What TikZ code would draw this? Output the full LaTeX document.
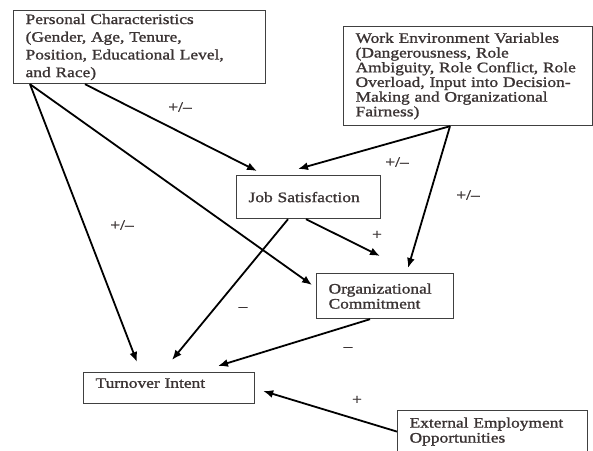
\documentclass[tikz,border=0pt]{standalone}
\usepackage{fontspec}
\setmainfont[FakeStretch=1.2,FakeBold=1.2]{Liberation Serif}
\usetikzlibrary{arrows.meta}
\definecolor{txt}{HTML}{3A3333}

\begin{document}
\begin{tikzpicture}[x=1pt, y=-1pt,
    box/.style={draw=black!75, line width=1.2pt, anchor=north west, align=left,
      inner xsep=12pt, inner ysep=0pt, text=txt, font=\fontsize{14.5}{15}\selectfont},
    lnk/.style={-{Latex[length=10pt,width=8pt]}, line width=1.8pt},
    sgn/.style={text=txt, font=\fontsize{14.5}{15}\selectfont}]
    \useasboundingbox (0,0) rectangle (593,450);

    \node[box, text width=228pt, minimum height=73pt, font=\fontsize{14.5}{17.7}\selectfont] (pc) at (13,10)
        {Personal Characteristics\\(Gender, Age, Tenure,\\Position, Educational Level,\\and Race)};
    \node[box, text width=225pt, minimum height=99pt, font=\fontsize{14.5}{14.7}\selectfont] (wev) at (343,26)
        {Work Environment Variables\\(Dangerousness, Role\\Ambiguity, Role Conflict, Role\\Overload, Input into Decision-\\Making and Organizational\\Fairness)};
    \node[box, text width=120pt, minimum height=43pt] (js) at (236,175) {Job Satisfaction};
    \node[box, text width=113pt, minimum height=45pt] (oc) at (316,273) {Organizational\\Commitment};
    \node[box, text width=147pt, minimum height=31pt, text depth=10pt] (ti) at (83,372) {Turnover Intent};
    \node[box, text width=166pt, minimum height=42pt] (eeo) at (397,410) {External Employment\\Opportunities};

    \node[sgn] (spcjs) at (180,107) {+/--};
    \node[sgn] (spcti) at (122,225) {+/--};
    \node[sgn] (swevjs) at (397,162) {+/--};
    \node[sgn] (swevoc) at (468,195) {+/--};
    \node[sgn] (sjsoc) at (377,235) {+};
    \node[sgn] (sjsti) at (243,309) {--};
    \node[sgn] (socti) at (348,349) {--};
    \node[sgn] (seeoti) at (357,400) {+};

    \draw[lnk] ([xshift=72pt]pc.south west) -- ([xshift=21pt,yshift=4pt]js.north west);
    \draw[lnk] ([xshift=17pt]pc.south west) -- ([xshift=-4pt,yshift=-12pt]oc.north west);
    \draw[lnk] ([xshift=17pt]pc.south west) -- ([xshift=54pt,yshift=10pt]ti.north west);
    \draw[lnk] ([xshift=107pt]wev.south west) -- ([xshift=62pt,yshift=6pt]js.north west);
    \draw[lnk] ([xshift=107pt]wev.south west) -- ([xshift=92pt,yshift=5pt]oc.north west);
    \draw[lnk] ([xshift=70pt]js.south west) -- ([xshift=64pt,yshift=17pt]oc.north west);
    \draw[lnk] ([xshift=52pt]js.south west) -- ([xshift=89pt,yshift=12pt]ti.north west);
    \draw[lnk] ([xshift=54pt]oc.south west) -- ([xshift=135pt,yshift=6pt]ti.north west);
    \draw[lnk] (eeo.west) -- ([xshift=8pt,yshift=-19pt]ti.north east);
\end{tikzpicture}
\end{document}
